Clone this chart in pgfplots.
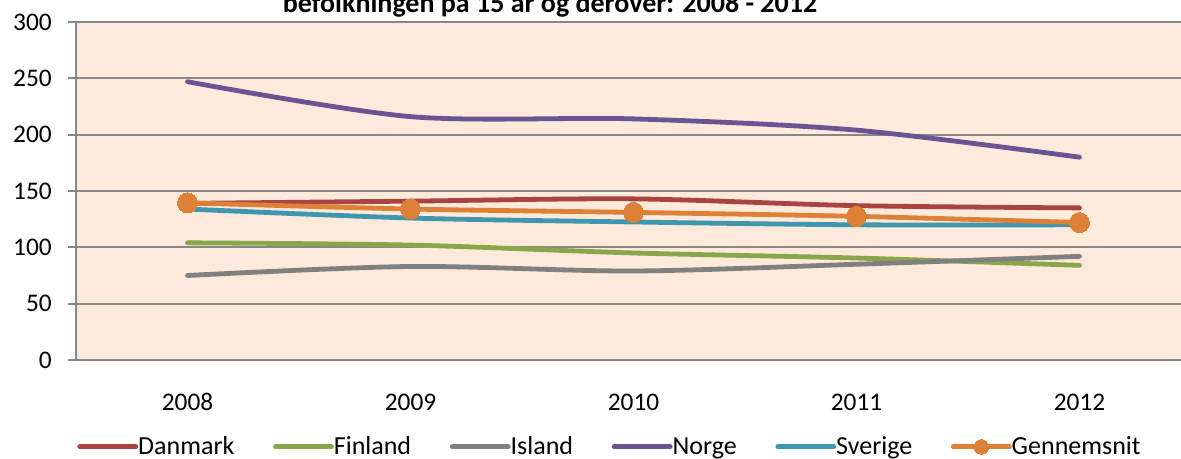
\documentclass[border=0pt]{standalone}
\usepackage{pgfplots}
\pgfplotsset{compat=1.18}
\usepackage{fontspec}
\setmainfont{Carlito}
\definecolor{danmark}{RGB}{169,68,66}
\definecolor{finland}{RGB}{137,166,75}
\definecolor{island}{RGB}{128,128,128}
\definecolor{norge}{RGB}{108,84,148}
\definecolor{sverige}{RGB}{63,151,175}
\definecolor{gennem}{RGB}{221,128,56}
\definecolor{bgfill}{RGB}{253,234,218}
\definecolor{gridc}{RGB}{135,135,135}
\begin{document}
\begin{tikzpicture}
\clip (-57pt,-74.25pt) rectangle (828.75pt,270pt);
\useasboundingbox (-57pt,-74.25pt) rectangle (828.75pt,270pt);
\begin{axis}[
  at={(0pt,0pt)}, anchor=south west,
  scale only axis, width=836.25pt, height=253.5pt,
  xmin=-0.5, xmax=4.5, ymin=0, ymax=300,
  axis background/.style={fill=bgfill},
  axis line style={gridc, line width=1.4pt},
  axis x line*=bottom, axis y line*=left,
  ytick={0,50,...,300},
  ymajorgrids, major grid style={gridc, line width=1.4pt},
  xtick={0,1,2,3,4},
  xticklabels={2008,2009,2010,2011,2012},
  minor xtick={-0.5,0.5,1.5,2.5,3.5,4.5},
  tick align=outside,
  major tick length=6pt, minor tick length=5.5pt,
  xtick style={draw=none},
  xminorgrids=false,
  minor tick style={gridc, line width=1.4pt},
  ytick style={gridc, line width=1.4pt},
  /pgf/number format/assume math mode=true,
  tick label style={font=\fontsize{19}{21}\selectfont},
  yticklabel style={anchor=east, inner sep=0pt, xshift=-12pt},
  xticklabel style={anchor=base, inner sep=0pt, yshift=-32pt},
  clip=false,
  legend columns=6,
  legend style={at={(0.001,-0.257)}, anchor=west, draw=none, fill=none,
    inner sep=0pt, font=\fontsize{19.5}{21}\selectfont,
    /tikz/every even column/.append style={column sep=29pt},
    nodes={inner sep=0pt, anchor=west, xshift=3pt}},
  legend image code/.code={\draw[mark repeat=2,mark phase=2,#1,mark size=5.5pt] plot coordinates {(0pt,0pt) (21pt,0pt) (42pt,0pt)};},
  every axis plot/.append style={line width=3.6pt, line cap=round, smooth},
]
\addplot[danmark, mark=none] coordinates {(0,139) (1,141) (2,143) (3,137) (4,135)};
\addlegendentry{Danmark}
\addplot[finland, mark=none] coordinates {(0,104) (1,102) (2,95) (3,90.5) (4,84)};
\addlegendentry{Finland}
\addplot[island, mark=none] coordinates {(0,75) (1,83) (2,79) (3,85) (4,92)};
\addlegendentry{Island}
\addplot[norge, mark=none] coordinates {(0,247) (1,216) (2,214) (3,204) (4,180)};
\addlegendentry{Norge}
\addplot[sverige, mark=none] coordinates {(0,134) (1,126) (2,122.5) (3,120) (4,120)};
\addlegendentry{Sverige}
\addplot[gennem, mark=*, mark size=7.5pt, mark options={fill=gennem, draw=gennem, line width=0pt}] coordinates {(0,139.5) (1,134) (2,131) (3,127.5) (4,122)};
\addlegendentry{Gennemsnit}
\end{axis}
\node[anchor=base, font=\fontsize{21}{23}\selectfont\bfseries] at (355.5pt,260.25pt) {befolkningen på 15 år og derover:  2008 - 2012};
\end{tikzpicture}
\end{document}
